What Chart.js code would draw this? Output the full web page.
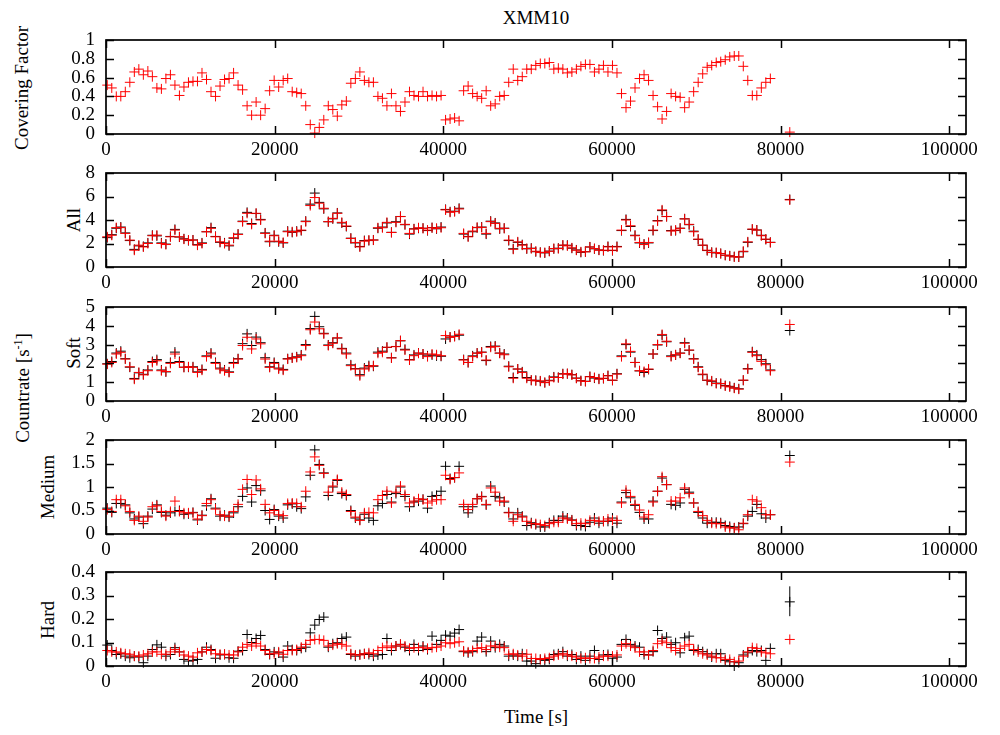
<!DOCTYPE html>
<html>
<head>
<meta charset="utf-8">
<script src="https://cdn.jsdelivr.net/npm/chart.js@4.4.1/dist/chart.umd.min.js"></script>
<style>
  body { margin: 0; background: #fff; }
  #page { position: relative; width: 1000px; height: 735px; overflow: hidden;
          font-family: "Liberation Serif", "DejaVu Serif", serif; color: #000; }
  .lbl { position: absolute; font-size: 19px; white-space: nowrap; line-height: 1; }
  .mid { transform: translate(-50%, -50%); }
  .rot { transform: translate(-50%, -50%) rotate(-90deg); }
  .lbl sup { font-size: 12px; }
  canvas { position: absolute; left: 0; }
</style>
</head>
<body>
<div id="page">
  <div class="lbl mid" style="left:536px;top:17px">XMM10</div>
  <div class="lbl rot" style="left:21px;top:88px">Covering Factor</div>
  <div class="lbl rot" style="left:73px;top:220px">All</div>
  <div class="lbl rot" style="left:73px;top:353px">Soft</div>
  <div class="lbl rot" style="left:22px;top:388px">Countrate [s<sup>-1</sup>]</div>
  <div class="lbl rot" style="left:47px;top:487px">Medium</div>
  <div class="lbl rot" style="left:47px;top:620px">Hard</div>
  <div class="lbl mid" style="left:536px;top:716px">Time [s]</div>
</div>
<script>
// bin centres [s]; the last entry is the isolated point near 81 ks
const TIME = [
  150, 685, 1220, 1755, 2290, 2825, 3360, 3895, 4430, 4965,
  5500, 6035, 6570, 7105, 7640, 8175, 8710, 9245, 9780, 10315,
  10850, 11385, 11920, 12455, 12990, 13525, 14060, 14595, 15130, 15665,
  16200, 16735, 17270, 17805, 18340, 18875, 19410, 19945, 20480, 21015,
  21550, 22085, 22620, 23155, 23690, 24225, 24760, 25295, 25830, 26365,
  26900, 27435, 27970, 28505, 29040, 29575, 30110, 30645, 31180, 31715,
  32250, 32785, 33320, 33855, 34390, 34925, 35460, 35995, 36530, 37065,
  37600, 38135, 38670, 39205, 39740, 40275, 40810, 41345, 41880, 42415,
  42950, 43485, 44020, 44555, 45090, 45625, 46160, 46695, 47230, 47765,
  48300, 48835, 49370, 49905, 50440, 50975, 51510, 52045, 52580, 53115,
  53650, 54185, 54720, 55255, 55790, 56325, 56860, 57395, 57930, 58465,
  59000, 59535, 60070, 60605, 61140, 61675, 62210, 62745, 63280, 63815,
  64350, 64885, 65420, 65955, 66490, 67025, 67560, 68095, 68630, 69165,
  69700, 70235, 70770, 71305, 71840, 72375, 72910, 73445, 73980, 74515,
  75050, 75585, 76120, 76655, 77190, 77725, 78260, 78795,
  81100
];

const COVER = [
  0.52,0.49,0.40,0.40,0.45,0.55,0.66,0.69,0.63,0.67,
  0.61,0.49,0.48,0.59,0.63,0.52,0.41,0.50,0.55,0.56,
  0.56,0.65,0.58,0.45,0.40,0.51,0.58,0.59,0.65,0.52,
  0.47,0.30,0.20,0.34,0.20,0.27,0.46,0.57,0.50,0.57,
  0.59,0.45,0.44,0.43,0.30,0.10,0.01,0.07,0.15,0.30,
  0.26,0.19,0.31,0.35,0.54,0.59,0.66,0.57,0.55,0.55,
  0.40,0.38,0.30,0.43,0.30,0.24,0.34,0.45,0.41,0.40,
  0.45,0.40,0.41,0.40,0.41,
  0.15,0.16,0.17,0.14,
  0.46,0.51,0.43,0.40,0.38,0.46,0.30,0.32,0.40,0.41,
  0.55,0.69,0.57,0.61,0.69,0.69,0.73,0.75,0.75,0.76,
  0.69,0.70,0.69,0.65,0.66,0.69,0.72,0.74,0.74,0.66,
  0.69,0.73,0.66,0.73,0.65,
  0.43,0.28,0.35,0.49,0.59,0.63,0.57,0.41,0.29,0.16,
  0.24,0.43,0.40,0.39,0.28,0.34,0.45,0.55,0.64,0.71,
  0.73,0.76,0.77,0.79,0.82,0.83,0.83,0.72,0.57,0.41,
  0.41,0.49,0.55,0.59,
  0.02
];

const ALL_RED = [
  2.57,2.70,3.35,3.35,2.86,2.29,1.43,1.86,1.71,2.00,
  2.66,2.71,2.00,1.91,2.57,3.14,2.57,2.37,2.29,2.29,
  1.86,2.00,3.00,3.29,2.57,2.14,2.00,1.86,2.49,2.77,
  3.86,4.57,3.63,4.57,4.00,2.86,2.20,2.66,2.20,2.09,
  3.00,3.00,3.00,3.14,3.86,5.23,5.91,5.43,5.00,3.86,
  4.14,4.57,3.80,3.49,2.43,2.09,1.71,2.20,2.29,2.29,
  3.34,3.34,3.80,2.94,3.80,4.29,3.63,2.86,3.23,3.34,
  3.29,3.14,3.34,3.29,3.34,
  4.86,4.66,4.71,4.94,
  2.86,2.57,3.06,3.37,3.37,2.86,3.86,3.71,3.29,3.29,
  2.29,1.51,2.14,1.86,1.57,1.57,1.34,1.23,1.23,1.34,
  1.57,1.57,1.86,1.80,1.63,1.43,1.29,1.29,1.71,1.57,
  1.43,1.43,1.71,1.43,1.71,
  3.14,4.00,3.51,2.66,2.09,1.91,2.09,3.14,3.91,4.86,
  4.29,3.06,3.14,3.29,4.09,3.63,3.00,2.37,1.86,1.43,
  1.23,1.23,1.14,1.00,0.94,0.86,0.86,1.34,2.14,3.23,
  3.14,2.66,2.37,2.09,
  5.71
];
const ALL_BLACK = [
  2.50,2.75,3.30,3.40,2.90,2.25,1.50,1.80,1.75,2.05,
  2.70,2.65,2.05,1.95,2.60,3.20,2.55,2.40,2.25,2.30,
  1.90,2.05,3.00,3.35,2.60,2.10,2.05,1.80,2.45,2.80,
  3.90,4.65,3.70,4.55,4.05,2.90,2.15,2.70,2.15,2.05,
  3.05,2.95,3.05,3.10,3.90,5.35,6.29,5.50,4.95,3.85,
  4.10,4.60,3.75,3.45,2.45,2.05,1.75,2.25,2.25,2.30,
  3.30,3.40,3.75,2.95,3.85,4.30,3.60,2.80,3.25,3.30,
  3.30,3.10,3.35,3.25,3.40,
  4.90,4.70,4.75,5.00,
  2.80,2.60,3.00,3.35,3.40,2.80,3.90,3.75,3.25,3.30,
  2.25,1.55,2.10,1.90,1.55,1.60,1.30,1.25,1.20,1.35,
  1.55,1.60,1.85,1.85,1.60,1.45,1.25,1.30,1.70,1.55,
  1.45,1.40,1.75,1.40,1.75,
  3.10,4.05,3.45,2.70,2.05,1.95,2.05,3.10,3.95,4.80,
  4.30,3.10,3.10,3.30,4.10,3.60,3.05,2.35,1.85,1.40,
  1.25,1.20,1.15,1.00,0.95,0.88,0.85,1.30,2.10,3.20,
  3.15,2.70,2.35,2.10,
  5.75
];

const SOFT_RED = [
  1.96,2.05,2.50,2.59,2.23,1.82,1.16,1.52,1.39,1.61,
  2.05,2.14,1.61,1.57,2.00,2.50,2.05,1.79,1.82,1.79,
  1.52,1.64,2.36,2.50,2.00,1.70,1.61,1.52,2.00,2.23,
  2.95,3.39,2.77,3.30,3.04,2.23,1.79,2.00,1.70,1.64,
  2.23,2.29,2.32,2.41,2.95,3.79,4.20,3.84,3.57,2.95,
  3.07,3.36,2.77,2.50,1.88,1.70,1.34,1.70,1.82,1.88,
  2.54,2.59,2.86,2.29,2.89,3.21,2.71,2.18,2.41,2.54,
  2.50,2.36,2.50,2.46,2.41,
  3.48,3.39,3.43,3.55,
  2.18,2.05,2.36,2.54,2.59,2.18,2.86,2.89,2.54,2.46,
  1.82,1.21,1.70,1.52,1.21,1.11,1.07,1.07,0.98,1.07,
  1.25,1.25,1.43,1.46,1.39,1.21,1.07,1.04,1.29,1.25,
  1.16,1.21,1.34,1.11,1.43,
  2.36,3.04,2.64,2.05,1.61,1.57,1.70,2.50,3.00,3.54,
  3.18,2.36,2.46,2.54,3.07,2.71,2.23,1.79,1.43,1.11,
  1.07,0.93,0.93,0.80,0.75,0.68,0.63,1.11,1.70,2.59,
  2.41,2.11,1.93,1.61,
  4.07
];
const SOFT_BLACK = [
  1.98,2.10,2.55,2.65,2.25,1.80,1.20,1.50,1.42,1.65,
  2.10,2.20,1.65,1.55,2.05,2.60,2.10,1.80,1.80,1.82,
  1.55,1.68,2.40,2.55,2.05,1.75,1.65,1.55,2.05,2.25,
  3.05,3.57,2.95,3.40,3.10,2.30,1.82,2.05,1.75,1.68,
  2.25,2.30,2.35,2.45,3.00,3.85,4.50,3.95,3.60,2.98,
  3.10,3.35,2.80,2.55,1.92,1.72,1.40,1.75,1.88,1.85,
  2.60,2.65,2.85,2.30,2.90,3.20,2.75,2.20,2.45,2.55,
  2.50,2.40,2.45,2.40,2.38,
  3.30,3.40,3.45,3.50,
  2.20,2.05,2.40,2.55,2.60,2.15,2.90,2.92,2.55,2.50,
  1.85,1.25,1.70,1.55,1.25,1.10,1.10,1.05,0.98,1.10,
  1.28,1.25,1.45,1.45,1.40,1.22,1.08,1.05,1.30,1.22,
  1.18,1.20,1.35,1.10,1.45,
  2.40,3.00,2.60,2.05,1.60,1.52,1.68,2.50,2.98,3.50,
  3.15,2.40,2.45,2.55,3.10,2.70,2.25,1.82,1.40,1.10,
  1.05,0.95,0.92,0.82,0.78,0.70,0.65,1.10,1.72,2.62,
  2.45,2.20,1.98,1.65,
  3.75
];

const MED_RED = [
  0.52,0.48,0.73,0.73,0.60,0.48,0.29,0.38,0.27,0.36,
  0.58,0.60,0.48,0.38,0.48,0.70,0.48,0.45,0.45,0.45,
  0.32,0.39,0.65,0.73,0.53,0.41,0.38,0.38,0.48,0.63,
  0.95,1.16,0.84,1.15,0.96,0.63,0.45,0.50,0.41,0.39,
  0.65,0.66,0.65,0.58,0.91,1.32,1.64,1.46,1.29,0.89,
  1.02,1.16,0.89,0.84,0.48,0.36,0.29,0.45,0.46,0.45,
  0.73,0.82,0.91,0.66,0.89,1.02,0.84,0.66,0.70,0.75,
  0.73,0.66,0.70,0.73,0.73,
  1.25,1.16,1.20,1.30,
  0.63,0.52,0.63,0.75,0.79,0.63,0.98,0.89,0.70,0.70,
  0.45,0.27,0.41,0.36,0.27,0.22,0.22,0.20,0.18,0.22,
  0.25,0.25,0.34,0.32,0.29,0.22,0.23,0.22,0.29,0.29,
  0.27,0.27,0.32,0.29,0.29,
  0.66,0.93,0.80,0.63,0.51,0.36,0.41,0.68,0.91,1.22,
  1.05,0.70,0.70,0.77,0.98,0.86,0.66,0.48,0.39,0.29,
  0.23,0.22,0.22,0.15,0.13,0.13,0.09,0.23,0.41,0.73,
  0.70,0.56,0.41,0.41,
  1.53
];
const MED_BLACK = [
  0.55,0.46,0.65,0.65,0.62,0.45,0.32,0.36,0.22,0.38,
  0.53,0.62,0.46,0.40,0.45,0.48,0.50,0.42,0.43,0.46,
  0.30,0.40,0.60,0.75,0.55,0.38,0.40,0.36,0.45,0.58,
  0.80,0.98,0.68,1.03,0.92,0.50,0.31,0.52,0.38,0.34,
  0.62,0.64,0.58,0.54,0.79,1.25,1.79,1.48,1.30,0.82,
  1.00,1.14,0.86,0.82,0.50,0.34,0.30,0.42,0.34,0.29,
  0.60,0.65,0.84,0.68,0.86,1.00,0.80,0.58,0.68,0.70,
  0.74,0.55,0.80,0.82,0.91,
  1.44,1.18,1.20,1.44,
  0.58,0.45,0.58,0.75,0.80,0.62,1.02,0.80,0.77,0.68,
  0.46,0.32,0.45,0.38,0.18,0.24,0.20,0.15,0.15,0.24,
  0.29,0.29,0.38,0.34,0.30,0.18,0.18,0.16,0.25,0.34,
  0.23,0.27,0.27,0.34,0.23,
  0.68,0.88,0.77,0.61,0.46,0.32,0.32,0.70,0.91,1.19,
  1.05,0.63,0.61,0.66,0.95,0.89,0.66,0.46,0.34,0.23,
  0.25,0.25,0.24,0.18,0.16,0.13,0.15,0.22,0.38,0.48,
  0.63,0.43,0.34,0.41,
  1.67
];

const HARD_RED = [
  0.066,0.060,0.060,0.056,0.052,0.050,0.042,0.042,0.047,0.052,
  0.060,0.060,0.050,0.050,0.060,0.070,0.060,0.047,0.042,0.038,
  0.056,0.060,0.070,0.066,0.052,0.050,0.050,0.047,0.047,0.060,
  0.080,0.092,0.085,0.095,0.085,0.066,0.052,0.052,0.060,0.050,
  0.066,0.066,0.070,0.080,0.092,0.109,0.113,0.113,0.109,0.085,
  0.089,0.095,0.092,0.085,0.052,0.047,0.047,0.052,0.056,0.052,
  0.066,0.078,0.085,0.078,0.085,0.092,0.085,0.075,0.078,0.078,
  0.080,0.075,0.078,0.080,0.085,
  0.099,0.095,0.099,0.103,
  0.064,0.060,0.066,0.075,0.078,0.070,0.085,0.085,0.080,0.078,
  0.050,0.052,0.047,0.042,0.050,0.032,0.032,0.028,0.032,0.035,
  0.042,0.047,0.052,0.047,0.042,0.038,0.032,0.035,0.032,0.032,
  0.038,0.042,0.042,0.042,0.047,
  0.085,0.095,0.085,0.078,0.060,0.060,0.047,0.066,0.095,0.106,
  0.099,0.078,0.066,0.075,0.085,0.092,0.070,0.060,0.052,0.047,
  0.042,0.035,0.035,0.028,0.028,0.018,0.021,0.042,0.060,0.078,
  0.075,0.060,0.056,0.052,
  0.113
];
const HARD_BLACK = [
  0.089,0.066,0.049,0.052,0.042,0.035,0.042,0.038,0.014,0.042,
  0.070,0.090,0.080,0.042,0.049,0.078,0.060,0.028,0.021,0.024,
  0.028,0.060,0.080,0.070,0.033,0.047,0.049,0.035,0.033,0.063,
  0.066,0.134,0.100,0.117,0.130,0.070,0.049,0.060,0.056,0.038,
  0.085,0.070,0.066,0.075,0.080,0.141,0.174,0.198,0.208,0.080,
  0.095,0.099,0.117,0.123,0.049,0.042,0.049,0.052,0.049,0.042,
  0.047,0.049,0.117,0.066,0.085,0.092,0.080,0.066,0.092,0.066,
  0.085,0.070,0.127,0.092,0.109,
  0.131,0.127,0.140,0.155,
  0.061,0.056,0.061,0.106,0.123,0.061,0.106,0.078,0.092,0.085,
  0.042,0.047,0.042,0.052,0.021,0.021,0.010,0.028,0.024,0.028,
  0.049,0.052,0.061,0.042,0.049,0.028,0.042,0.024,0.042,0.066,
  0.028,0.047,0.049,0.033,0.038,
  0.092,0.113,0.092,0.085,0.080,0.049,0.047,0.061,0.151,0.117,
  0.123,0.092,0.099,0.056,0.120,0.127,0.066,0.070,0.061,0.052,
  0.038,0.052,0.052,0.024,0.018,0.000,0.014,0.047,0.056,0.066,
  0.061,0.066,0.024,0.075,
  0.273
];
// error bar of the last hard-band point
const HARD_LAST_ERR = [0.212, 0.339];

const X_TICKS = [0, 20000, 40000, 60000, 80000, 100000];
const COVER_TICKS = [0, 0.2, 0.4, 0.6, 0.8, 1];
const ALL_TICKS = [0, 2, 4, 6, 8];
const SOFT_TICKS = [0, 1, 2, 3, 4, 5];
const MED_TICKS = [0, 0.5, 1, 1.5, 2];
const HARD_TICKS = [0, 0.1, 0.2, 0.3, 0.4];

const FONT = { family: '"Liberation Serif", "DejaVu Serif", serif', size: 19, lineHeight: 1 };
const PAD_TOP = 12;
const FRAME_H = 94;
const X_AXIS_H = 30;

function pts(arr) {
  return TIME.map((t, i) => ({ x: t, y: arr[i] }));
}

function crosses(arr, color, order) {
  return {
    data: pts(arr),
    pointStyle: 'cross',
    pointRadius: 5,
    pointBorderWidth: 1,
    borderColor: color,
    backgroundColor: color,
    showLine: false,
    clip: false,
    order: order
  };
}

// gnuplot style border with inward ticks on all four sides
const framePlugin = {
  id: 'frame',
  afterDraw(chart) {
    const ctx = chart.ctx;
    const a = chart.chartArea;
    const xs = chart.scales.x, ys = chart.scales.y;
    const tl = 8;
    ctx.save();
    ctx.strokeStyle = '#000';
    ctx.lineWidth = 1.5;
    ctx.beginPath();
    X_TICKS.forEach(v => {
      const px = Math.round(xs.getPixelForValue(v)) + 0.5;
      ctx.moveTo(px, a.bottom); ctx.lineTo(px, a.bottom - tl);
      ctx.moveTo(px, a.top); ctx.lineTo(px, a.top + tl);
    });
    ys.ticks.forEach(t => {
      const py = Math.round(ys.getPixelForValue(t.value)) + 0.5;
      ctx.moveTo(a.left, py); ctx.lineTo(a.left + tl, py);
      ctx.moveTo(a.right, py); ctx.lineTo(a.right - tl, py);
    });
    ctx.stroke();
    ctx.lineWidth = 1.7;
    ctx.strokeRect(a.left, a.top, a.right - a.left, a.bottom - a.top);
    ctx.restore();
  }
};

const panels = [
  { top: 40,  ticks: COVER_TICKS, sets: [crosses(COVER, '#ff0000', 0)] },
  { top: 173, ticks: ALL_TICKS,   sets: [crosses(ALL_RED, '#ff0000', 0), crosses(ALL_BLACK, '#000000', 1)] },
  { top: 307, ticks: SOFT_TICKS,  sets: [crosses(SOFT_RED, '#ff0000', 0), crosses(SOFT_BLACK, '#000000', 1)] },
  { top: 440, ticks: MED_TICKS,   sets: [crosses(MED_RED, '#ff0000', 0), crosses(MED_BLACK, '#000000', 1)] },
  { top: 572, ticks: HARD_TICKS,  sets: [crosses(HARD_RED, '#ff0000', 0), crosses(HARD_BLACK, '#000000', 1),
    {
      data: HARD_LAST_ERR.map(v => ({ x: TIME[TIME.length - 1], y: v })),
      showLine: true, pointRadius: 0, borderColor: '#000000', borderWidth: 1, clip: false, order: 2
    }] }
];

const page = document.getElementById('page');

panels.forEach(p => {
  const canvas = document.createElement('canvas');
  canvas.width = 1000;
  canvas.height = PAD_TOP + FRAME_H + X_AXIS_H;
  canvas.style.top = (p.top - PAD_TOP) + 'px';
  page.appendChild(canvas);

  const chart = new Chart(canvas, {
    type: 'scatter',
    data: { datasets: p.sets },
    options: {
      responsive: false,
      maintainAspectRatio: false,
      animation: false,
      events: [],
      layout: { padding: { top: PAD_TOP, right: 34, bottom: 0, left: 0 } },
      plugins: { legend: { display: false }, tooltip: { enabled: false } },
      scales: {
        x: {
          type: 'linear',
          min: 0,
          max: 102000,
          grid: { display: false, drawTicks: false },
          border: { display: false },
          afterBuildTicks: s => { s.ticks = X_TICKS.map(v => ({ value: v })); },
          afterFit: s => {
            s.height = X_AXIS_H;
            s.paddingLeft = 0; s.paddingRight = 0; s.paddingTop = 0; s.paddingBottom = 0;
          },
          ticks: {
            padding: 7, maxRotation: 0, autoSkip: false,
            color: '#000', font: FONT,
            callback: v => String(v)
          }
        },
        y: {
          type: 'linear',
          min: p.ticks[0],
          max: p.ticks[p.ticks.length - 1],
          grid: { display: false, drawTicks: false },
          border: { display: false },
          afterBuildTicks: s => { s.ticks = p.ticks.map(v => ({ value: v })); },
          afterFit: s => {
            s.width = 106;
            s.paddingLeft = 0; s.paddingRight = 0; s.paddingTop = 0; s.paddingBottom = 0;
          },
          ticks: {
            padding: 11, autoSkip: false, color: '#000', font: FONT,
            callback: v => String(Math.round(v * 100) / 100)
          }
        }
      }
    },
    plugins: [framePlugin]
  });

  // keep the frame exactly where the reference has it
  const a = chart.chartArea;
  canvas.style.top = (p.top - a.top) + 'px';
  const want = a.top + FRAME_H + X_AXIS_H;
  if (Math.abs((a.bottom - a.top) - FRAME_H) > 0.5) {
    chart.resize(1000, Math.round(want + (canvas.height - X_AXIS_H - a.bottom)));
    canvas.style.top = (p.top - chart.chartArea.top) + 'px';
  }
});
</script>
</body>
</html>
